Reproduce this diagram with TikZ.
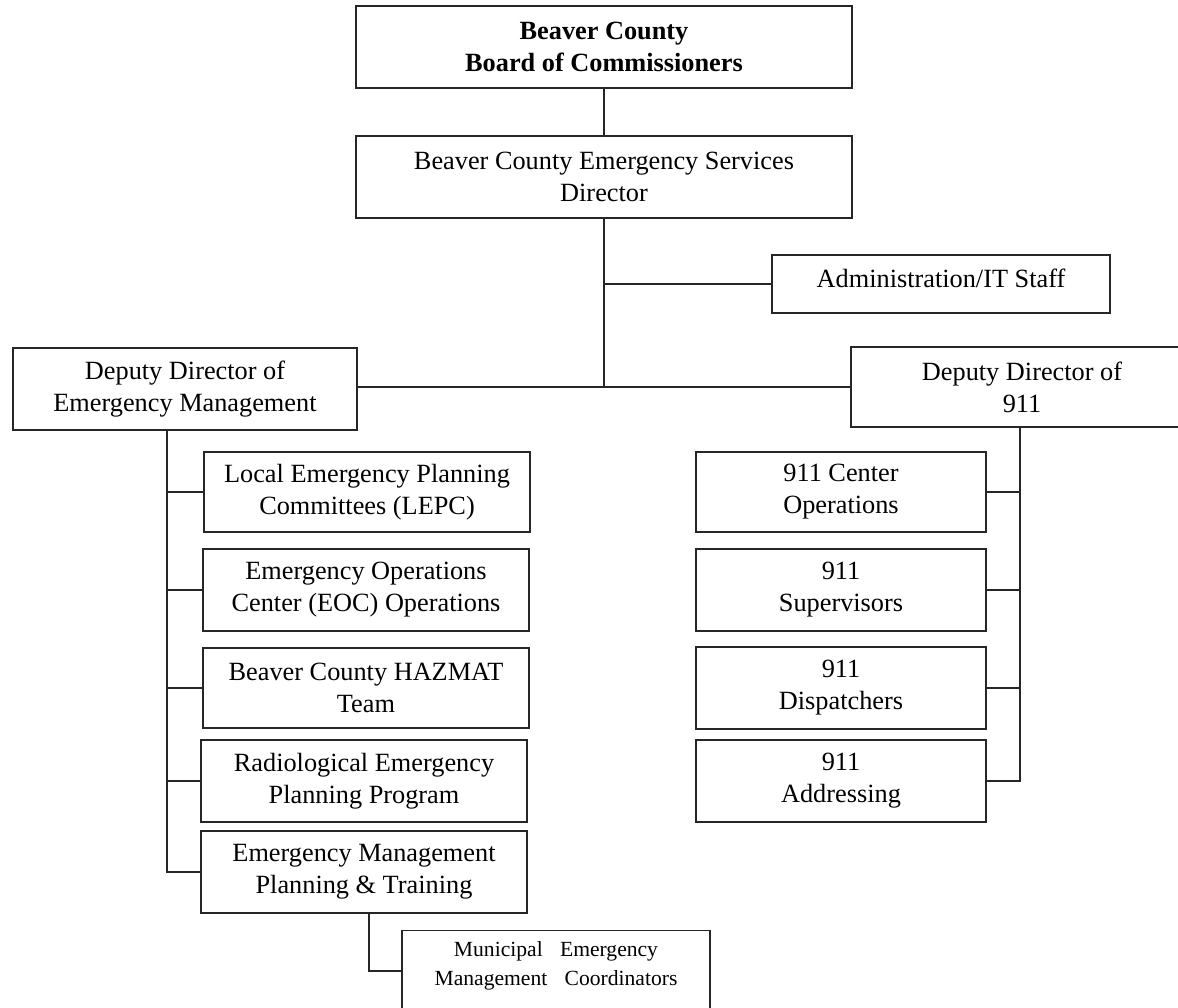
\documentclass[tikz,border=0pt]{standalone}
\usepackage{fontspec}
\setmainfont{Liberation Serif}
\newcommand{\munfont}{\fontsize{21.6}{28.5}\selectfont\spaceskip 0.8em\relax}
\begin{document}
\begin{tikzpicture}[x=1pt,y=-1pt,
  box/.style={draw=black!85, line width=1.2pt, inner sep=0pt, align=center, font=\fontsize{26.3}{32}\selectfont},
  conn/.style={draw=black!85, line width=1.2pt},
  lbl/.style={inner sep=0pt, align=center}]
\useasboundingbox (0,0) rectangle (1178,1008);
\clip (0,0) rectangle (1178,1008);
% top
\node[box, minimum width=496, minimum height=82, font=\bfseries\fontsize{26.3}{32}\selectfont] (board) at (604,47) {Beaver County\\Board of Commissioners};
\node[box, minimum width=496, minimum height=82] (dir) at (604,177) {Beaver County Emergency Services\\Director};
\node[box, minimum width=338, minimum height=58] (admin) at (941,284) {\raisebox{6pt}[\height][\depth]{Administration/IT Staff}};
\node[box, minimum width=344, minimum height=82] (demp) at (185,389) {Deputy Director of\\Emergency Management};
\node[box, minimum width=342, minimum height=80] (d911) at (1022,387) {Deputy Director of\\911};
% left column
\node[box, minimum width=326, minimum height=80] (lepc) at (367,492) {Local Emergency Planning\\Committees (LEPC)};
\node[box, minimum width=326, minimum height=82] (eoc) at (366,590) {Emergency Operations\\Center (EOC) Operations};
\node[box, minimum width=326, minimum height=80] (haz) at (366,688) {Beaver County HAZMAT\\Team};
\node[box, minimum width=326, minimum height=82] (rad) at (364,781) {Radiological Emergency\\Planning Program};
\node[box, minimum width=326, minimum height=82] (empt) at (364,872) {Emergency Management\\Planning \& Training};
\node[box, minimum width=308, minimum height=120, anchor=north] (mun) at (556,930) {};
\node[lbl, font=\munfont] (muntxt) at (556,966) {Municipal Emergency\\Management Coordinators};
% right column
\node[box, minimum width=290, minimum height=80] (c911) at (841,492) {911 Center\\Operations};
\node[box, minimum width=290, minimum height=82] (sup) at (841,590) {911\\Supervisors};
\node[box, minimum width=290, minimum height=82] (disp) at (841,688) {911\\Dispatchers};
\node[box, minimum width=290, minimum height=82] (addr) at (841,781) {911\\Addressing};
% junction coordinates
\coordinate (j) at (604,387);
\coordinate (emx) at (167,0);
\coordinate (rx) at (1020,0);
\coordinate (munj) at (369,971);
% connectors
\draw[conn] (board.south) -- (dir.north);
\draw[conn] (dir.south) -- (j);
\draw[conn] (dir.south |- admin.west) -- (admin.west);
\draw[conn] (demp.east |- j) -- (d911.west |- j);
\draw[conn] (emx |- demp.south) -- (emx |- empt.west) -- (empt.west);
\draw[conn] (emx |- lepc.west) -- (lepc.west);
\draw[conn] (emx |- eoc.west) -- (eoc.west);
\draw[conn] (emx |- haz.west) -- (haz.west);
\draw[conn] (emx |- rad.west) -- (rad.west);
\draw[conn] (rx |- d911.south) -- (rx |- addr.east) -- (addr.east);
\draw[conn] (rx |- c911.east) -- (c911.east);
\draw[conn] (rx |- sup.east) -- (sup.east);
\draw[conn] (rx |- disp.east) -- (disp.east);
\draw[conn] (munj |- empt.south) -- (munj) -- (munj -| mun.west);
\end{tikzpicture}
\end{document}
